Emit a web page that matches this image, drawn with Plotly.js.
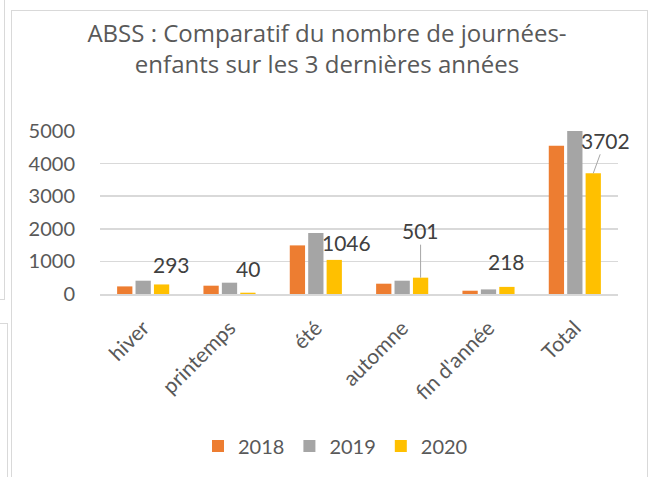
<!DOCTYPE html>
<html>
<head>
<meta charset="utf-8">
<script src="https://cdn.plot.ly/plotly-3.0.1.min.js"></script>
<style>
  html, body { margin: 0; padding: 0; background: #ffffff; }
  #wrap { position: relative; width: 654px; height: 477px; overflow: hidden; background: #fff; }
  .frame { position: absolute; border: 1.5px solid #d9d9d9; box-sizing: border-box; }
  #chart { position: absolute; left: 0; top: 0; width: 654px; height: 477px; }
</style>
</head>
<body>
<div id="wrap">
  <div class="frame" style="left:-10px; top:-10px; width:15px; height:310px;"></div>
  <div class="frame" style="left:-10px; top:323px; width:18px; height:200px;"></div>
  <div class="frame" style="left:11px; top:10px; width:637px; height:500px;"></div>
  <div id="chart"></div>
</div>
<script>
const categories = ['hiver', 'printemps', 'été', 'automne', "fin d'année", 'Total'];
const seriesNames = ['2018', '2019', '2020'];
const values2018 = [233, 255, 1491, 316, 101, 4549];
const values2019 = [408, 347, 1871, 408, 141, 5000];
const values2020 = [293, 40, 1046, 501, 218, 3702];
const yTicks = [0, 1000, 2000, 3000, 4000, 5000];
const colors = ['#ED7D31', '#A5A5A5', '#FFC000'];

const FONT = '"Open Sans", Lato, sans-serif';
const LFONT = 'Lato, "Open Sans", sans-serif';
const bargap = 0.36;

const traces = [values2018, values2019, values2020].map((vals, i) => ({
  type: 'bar',
  name: seriesNames[i],
  x: categories,
  y: vals,
  marker: { color: colors[i], line: { width: 0 } },
  hoverinfo: 'none'
}));

const labelOffsets = [
  { ax: 10, ay: -20, line: false },
  { ax: 0, ay: -24, line: false },
  { ax: 12, ay: -17, line: false },
  { ax: 0, ay: -47, line: true },
  { ax: 0, ay: -25, line: false },
  { ax: 12, ay: -33, line: true }
];
const barOffset = (1 - bargap) / 3;
const annotations = values2020.map((v, i) => ({
  x: i + barOffset,
  y: v,
  xref: 'x',
  yref: 'y',
  text: String(v),
  showarrow: true,
  arrowhead: 0,
  arrowwidth: 1,
  arrowcolor: labelOffsets[i].line ? '#a6a6a6' : 'rgba(0,0,0,0)',
  ax: labelOffsets[i].ax,
  ay: labelOffsets[i].ay,
  standoff: 0,
  font: { family: LFONT, size: 21, color: '#404040' }
}));

const layout = {
  width: 654,
  height: 477,
  margin: { l: 100, r: 36, t: 131, b: 183, autoexpand: false },
  paper_bgcolor: 'rgba(0,0,0,0)',
  plot_bgcolor: 'rgba(0,0,0,0)',
  barmode: 'group',
  bargap: bargap,
  bargroupgap: 0.17,
  title: {
    text: 'ABSS : Comparatif du nombre de journées-<br>enfants sur les 3 dernières années',
    font: { family: FONT, size: 24, color: '#595959' },
    x: 0.5, xref: 'container', xanchor: 'center',
    y: 0.9115, yref: 'container', yanchor: 'top'
  },
  xaxis: {
    type: 'category',
    range: [-0.5, categories.length - 0.5],
    autorange: false,
    tickangle: -45,
    tickfont: { family: LFONT, size: 21, color: '#595959' },
    showline: true,
    linecolor: '#d9d9d9',
    linewidth: 1.5,
    ticks: 'outside',
    ticklen: 12,
    tickcolor: 'rgba(0,0,0,0)',
    showgrid: false,
    automargin: false,
    fixedrange: true
  },
  yaxis: {
    range: [0, 5000],
    autorange: false,
    tickvals: yTicks,
    ticktext: yTicks.map(String),
    tickfont: { family: LFONT, size: 20, color: '#595959' },
    showgrid: true,
    gridcolor: '#d9d9d9',
    gridwidth: 1.5,
    zeroline: false,
    showline: false,
    ticks: 'outside',
    ticklen: 20,
    tickcolor: 'rgba(0,0,0,0)',
    automargin: false,
    fixedrange: true
  },
  showlegend: true,
  legend: {
    orientation: 'h',
    x: 0.513, xref: 'container', xanchor: 'center',
    y: 0.065, yref: 'container', yanchor: 'middle',
    font: { family: LFONT, size: 20, color: '#595959' },
    itemwidth: 30,
    traceorder: 'normal'
  },
  annotations: annotations
};

Plotly.newPlot('chart', traces, layout, { displayModeBar: false, staticPlot: true });
</script>
</body>
</html>
